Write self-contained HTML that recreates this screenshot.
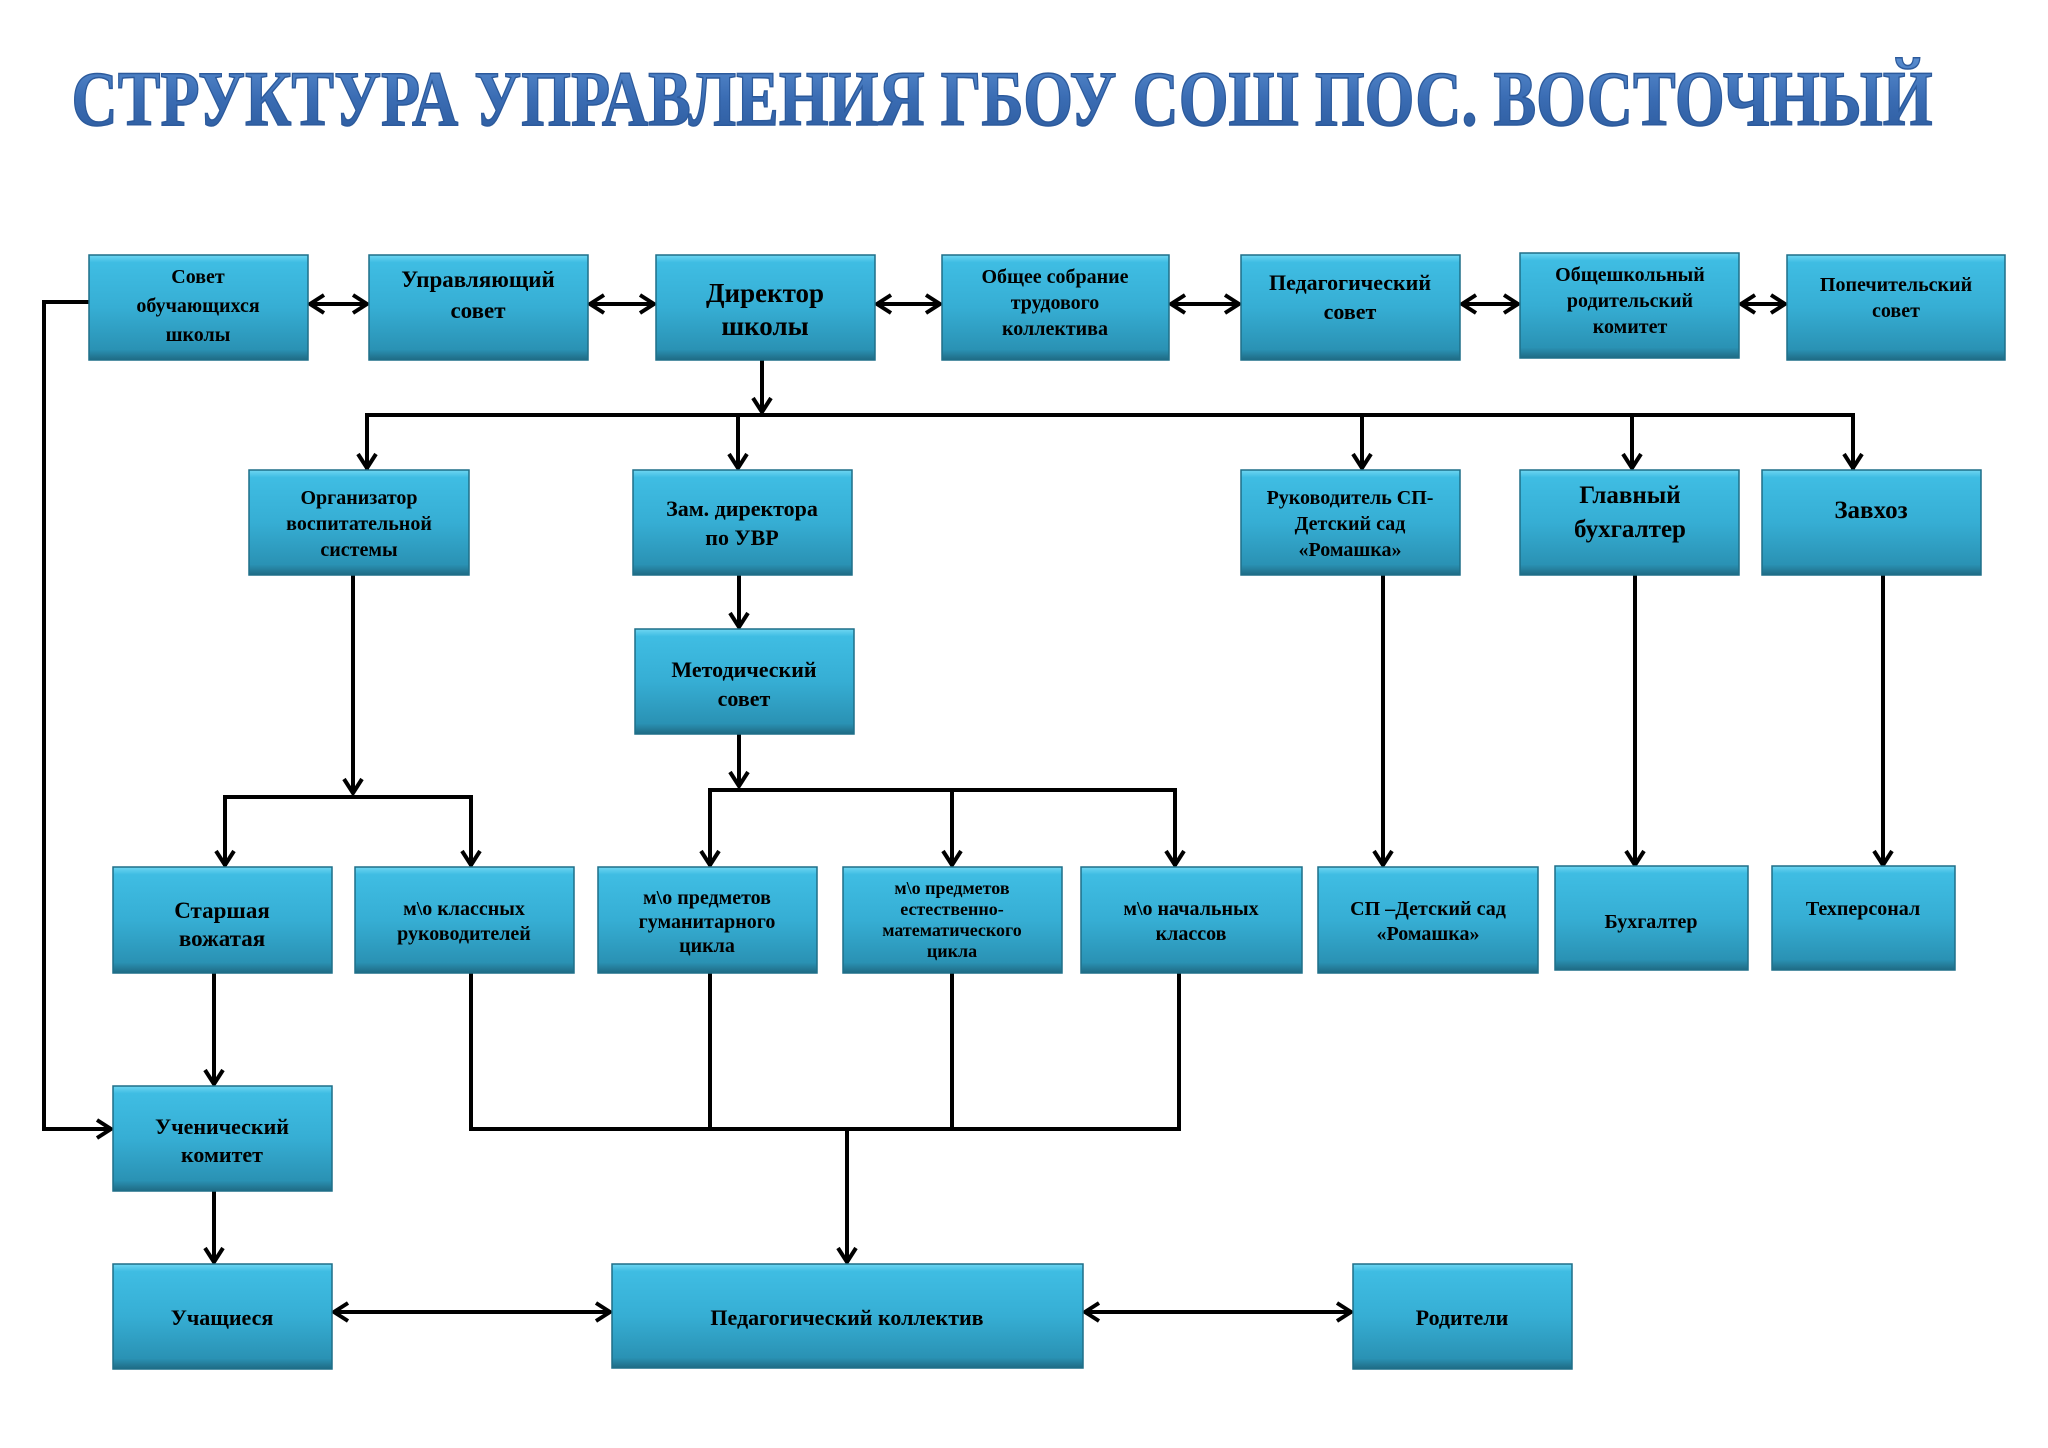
<!DOCTYPE html>
<html><head><meta charset="utf-8"><style>
html,body{margin:0;padding:0;background:#fff;width:2048px;height:1448px;overflow:hidden}
svg text{font-family:"Liberation Serif",serif;font-weight:bold;fill:#000;text-anchor:middle}
</style></head><body>
<svg width="2048" height="1448" viewBox="0 0 2048 1448" xmlns="http://www.w3.org/2000/svg">
<defs>
<linearGradient id="g" x1="0" y1="0" x2="0" y2="1">
<stop offset="0" stop-color="#6fd6f2"/><stop offset="0.07" stop-color="#3fbde3"/>
<stop offset="0.5" stop-color="#36aed4"/><stop offset="0.9" stop-color="#2a92b4"/><stop offset="1" stop-color="#1f6a84"/>
</linearGradient>
<linearGradient id="t" x1="0" y1="0" x2="0" y2="1">
<stop offset="0" stop-color="#5a8ed0"/><stop offset="0.5" stop-color="#3a6cb3"/><stop offset="1" stop-color="#2c5a9c"/>
</linearGradient>
<marker id="a" markerWidth="24" markerHeight="24" refX="17" refY="12" orient="auto-start-reverse" markerUnits="userSpaceOnUse">
<polyline points="3,3 17,12 3,21" fill="none" stroke="#000" stroke-width="4"/>
</marker>
</defs>
<text x="1002" y="125" font-size="78" textLength="1861" lengthAdjust="spacingAndGlyphs" style="fill:url(#t)" stroke="#2c5a9c" stroke-width="1.5">СТРУКТУРА УПРАВЛЕНИЯ ГБОУ СОШ ПОС. ВОСТОЧНЫЙ</text>

<g stroke="#000" stroke-width="4" fill="none">
<line x1="310" y1="304" x2="367" y2="304" marker-start="url(#a)" marker-end="url(#a)"/>
<line x1="590" y1="304" x2="654" y2="304" marker-start="url(#a)" marker-end="url(#a)"/>
<line x1="877" y1="304" x2="940" y2="304" marker-start="url(#a)" marker-end="url(#a)"/>
<line x1="1171" y1="304" x2="1239" y2="304" marker-start="url(#a)" marker-end="url(#a)"/>
<line x1="1462" y1="304" x2="1518" y2="304" marker-start="url(#a)" marker-end="url(#a)"/>
<line x1="1741" y1="304" x2="1785" y2="304" marker-start="url(#a)" marker-end="url(#a)"/>
<line x1="762" y1="360" x2="762" y2="412" marker-end="url(#a)"/>
<polyline points="367,470 367,415 1853,415 1853,470"/>
<line x1="367" y1="415" x2="367" y2="468" marker-end="url(#a)"/>
<line x1="738" y1="415" x2="738" y2="468" marker-end="url(#a)"/>
<line x1="1362" y1="415" x2="1362" y2="468" marker-end="url(#a)"/>
<line x1="1632" y1="415" x2="1632" y2="468" marker-end="url(#a)"/>
<line x1="1853" y1="415" x2="1853" y2="468" marker-end="url(#a)"/>
<line x1="353" y1="575" x2="353" y2="793" marker-end="url(#a)"/>
<polyline points="225,866 225,797 471,797 471,866"/>
<line x1="225" y1="797" x2="225" y2="865" marker-end="url(#a)"/>
<line x1="471" y1="797" x2="471" y2="865" marker-end="url(#a)"/>
<line x1="739" y1="575" x2="739" y2="627" marker-end="url(#a)"/>
<line x1="739" y1="734" x2="739" y2="786" marker-end="url(#a)"/>
<polyline points="710,866 710,790 1175,790 1175,866"/>
<line x1="710" y1="790" x2="710" y2="865" marker-end="url(#a)"/>
<line x1="952" y1="790" x2="952" y2="865" marker-end="url(#a)"/>
<line x1="1175" y1="790" x2="1175" y2="865" marker-end="url(#a)"/>
<line x1="1383" y1="575" x2="1383" y2="865" marker-end="url(#a)"/>
<line x1="1635" y1="575" x2="1635" y2="865" marker-end="url(#a)"/>
<line x1="1883" y1="575" x2="1883" y2="865" marker-end="url(#a)"/>
<line x1="214" y1="973" x2="214" y2="1084" marker-end="url(#a)"/>
<polyline points="89,302 44,302 44,1129 108,1129"/>
<line x1="44" y1="1129" x2="111" y2="1129" marker-end="url(#a)"/>
<line x1="214" y1="1191" x2="214" y2="1262" marker-end="url(#a)"/>
<polyline points="471,973 471,1129 1179,1129 1179,973"/>
<line x1="710" y1="973" x2="710" y2="1129"/>
<line x1="952" y1="973" x2="952" y2="1129"/>
<line x1="847" y1="1129" x2="847" y2="1262" marker-end="url(#a)"/>
<line x1="334" y1="1312" x2="610" y2="1312" marker-start="url(#a)" marker-end="url(#a)"/>
<line x1="1085" y1="1312" x2="1351" y2="1312" marker-start="url(#a)" marker-end="url(#a)"/>
</g>

<g stroke="#1e6f88" stroke-width="1.5" fill="url(#g)">
<rect x="89" y="255" width="219" height="105"/>
<rect x="369" y="255" width="219" height="105"/>
<rect x="656" y="255" width="219" height="105"/>
<rect x="942" y="255" width="227" height="105"/>
<rect x="1241" y="255" width="219" height="105"/>
<rect x="1520" y="253" width="219" height="105"/>
<rect x="1787" y="255" width="218" height="105"/>
<rect x="249" y="470" width="220" height="105"/>
<rect x="633" y="470" width="219" height="105"/>
<rect x="1241" y="470" width="219" height="105"/>
<rect x="1520" y="470" width="219" height="105"/>
<rect x="1762" y="470" width="219" height="105"/>
<rect x="635" y="629" width="219" height="105"/>
<rect x="113" y="867" width="219" height="106"/>
<rect x="355" y="867" width="219" height="106"/>
<rect x="598" y="867" width="219" height="106"/>
<rect x="843" y="867" width="219" height="106"/>
<rect x="1081" y="867" width="221" height="106"/>
<rect x="1318" y="867" width="220" height="106"/>
<rect x="1555" y="866" width="193" height="104"/>
<rect x="1772" y="866" width="183" height="104"/>
<rect x="113" y="1086" width="219" height="105"/>
<rect x="113" y="1264" width="219" height="105"/>
<rect x="612" y="1264" width="471" height="104"/>
<rect x="1353" y="1264" width="219" height="105"/>
</g>

<g font-size="20">
<text x="198" y="283">Совет</text><text x="198" y="312">обучающихся</text><text x="198" y="341">школы</text>
<text x="478" y="287" font-size="23">Управляющий</text><text x="478" y="318" font-size="23">совет</text>
<text x="765" y="302" font-size="27">Директор</text><text x="765" y="335" font-size="27">школы</text>
<text x="1055" y="283">Общее собрание</text><text x="1055" y="309">трудового</text><text x="1055" y="335">коллектива</text>
<text x="1350" y="290" font-size="22">Педагогический</text><text x="1350" y="319" font-size="22">совет</text>
<text x="1630" y="281">Общешкольный</text><text x="1630" y="307">родительский</text><text x="1630" y="333">комитет</text>
<text x="1896" y="291">Попечительский</text><text x="1896" y="317">совет</text>
<text x="359" y="504">Организатор</text><text x="359" y="530">воспитательной</text><text x="359" y="556">системы</text>
<text x="742" y="516" font-size="22">Зам. директора</text><text x="742" y="545" font-size="22">по УВР</text>
<text x="1350" y="504">Руководитель СП-</text><text x="1350" y="530">Детский сад</text><text x="1350" y="556">«Ромашка»</text>
<text x="1630" y="503" font-size="25">Главный</text><text x="1630" y="537" font-size="25">бухгалтер</text>
<text x="1871" y="518" font-size="25">Завхоз</text>
<text x="744" y="677" font-size="22">Методический</text><text x="744" y="706" font-size="22">совет</text>
<text x="222" y="918" font-size="23">Старшая</text><text x="222" y="946" font-size="23">вожатая</text>
<text x="464" y="915">м\о классных</text><text x="464" y="940">руководителей</text>
<text x="707" y="904">м\о предметов</text><text x="707" y="928">гуманитарного</text><text x="707" y="952">цикла</text>
<text x="952" y="894" font-size="18">м\о предметов</text><text x="952" y="915" font-size="18">естественно-</text><text x="952" y="936" font-size="18">математического</text><text x="952" y="957" font-size="18">цикла</text>
<text x="1191" y="915">м\о начальных</text><text x="1191" y="940">классов</text>
<text x="1428" y="915">СП –Детский сад</text><text x="1428" y="940">«Ромашка»</text>
<text x="1651" y="928">Бухгалтер</text>
<text x="1863" y="915">Техперсонал</text>
<text x="222" y="1134" font-size="22">Ученический</text><text x="222" y="1162" font-size="22">комитет</text>
<text x="222" y="1325" font-size="22">Учащиеся</text>
<text x="847" y="1325" font-size="22">Педагогический коллектив</text>
<text x="1462" y="1325" font-size="22">Родители</text>
</g>
</svg>
</body></html>
